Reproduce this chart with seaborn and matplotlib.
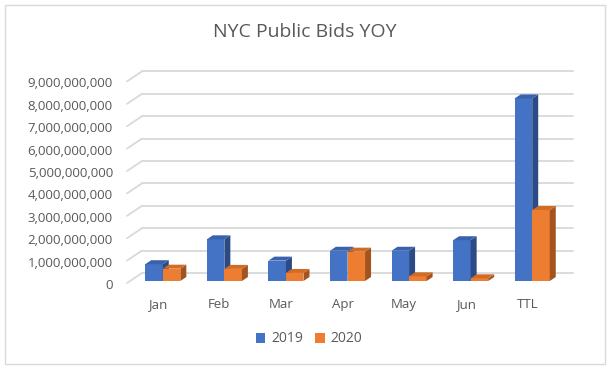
import numpy as np
import pandas as pd
import matplotlib
matplotlib.use("Agg")
import matplotlib.pyplot as plt
from matplotlib.patches import Polygon, Rectangle
from matplotlib.transforms import ScaledTranslation
import seaborn as sns

# data (in dollars)
months = ['Jan', 'Feb', 'Mar', 'Apr', 'May', 'Jun', 'TTL']
years = ['2019', '2020']
bids_2019 = [0.75e9, 1.86e9, 0.91e9, 1.35e9, 1.35e9, 1.82e9, 8.15e9]
bids_2020 = [0.55e9, 0.54e9, 0.36e9, 1.31e9, 0.21e9, 0.12e9, 3.17e9]
y_ticks = np.arange(0, 9e9 + 1, 1e9)

df = pd.DataFrame({
    'Month': months * 2,
    'Year': [years[0]] * len(months) + [years[1]] * len(months),
    'Bids': bids_2019 + bids_2020,
})

front = {'2019': '#4472C4', '2020': '#ED7D31'}
top = {'2019': '#3A62AC', '2020': '#D16C25'}
side = {'2019': '#2C4A85', '2020': '#A3531D'}
text_col = '#595959'
grid_col = '#D9D9D9'

sns.set_style('white')
plt.rcParams['font.family'] = ['Open Sans', 'DejaVu Sans']

W, H, DPI = 611, 370, 100
fig = plt.figure(figsize=(W / DPI, H / DPI), dpi=DPI)
ax = fig.add_axes([132 / W, 1 - 281 / H, 431 / W, 201.6 / H])
ax.patch.set_alpha(0)

sns.barplot(data=df, x='Month', y='Bids', hue='Year', palette=front,
            width=0.57, saturation=1, ax=ax, legend=False, zorder=3)

ax.set_xlim(-0.5, len(months) - 0.5)
ax.set_ylim(0, 9e9)
ax.set_yticks(y_ticks)
ax.set_yticklabels([f'{v:,.0f}' for v in y_ticks])
ax.set_xlabel('')
ax.set_ylabel('')
for s in ax.spines.values():
    s.set_visible(False)
ax.tick_params(axis='y', length=0, pad=13.7, labelsize=9.5, labelcolor=text_col)
ax.tick_params(axis='x', length=0, pad=12.5, labelsize=9.5, labelcolor=text_col)

px = 1 / DPI
for lbl in ax.get_yticklabels():
    lbl.set_transform(lbl.get_transform() + ScaledTranslation(0, -3 * px, fig.dpi_scale_trans))
for lbl in ax.get_xticklabels():
    lbl.set_transform(lbl.get_transform() + ScaledTranslation(-5 * px, 0, fig.dpi_scale_trans))

# back wall gridlines and the short diagonals on the left side wall
back = ax.transData + ScaledTranslation(10 * px, 8 * px, fig.dpi_scale_trans)
x0, x1 = ax.get_xlim()
for v in y_ticks:
    ax.plot([x0, x1], [v, v], color=grid_col, lw=1.3, transform=back,
            clip_on=False, zorder=1)
    p0 = ax.transData.transform((x0, v)) + np.array([-5, -2])
    p1 = ax.transData.transform((x0, v)) + np.array([10, 8])
    ax.plot([p0[0], p1[0]], [p0[1], p1[1]], color=grid_col, lw=1.3,
            transform=None, clip_on=False, zorder=1)

# 3D depth faces for each bar
depth_x, depth_y = 6, 4
for i, bar in enumerate(ax.patches):
    yr = years[i // len(months)]
    z = 3 + i // len(months)
    bar.set_zorder(z)
    bar.set_edgecolor('none')
    bx, bw, bh = bar.get_x(), bar.get_width(), bar.get_height()
    (l, b) = ax.transData.transform((bx, 0))
    (r, t) = ax.transData.transform((bx + bw, bh))
    top_face = [(l, t), (r, t), (r + depth_x, t + depth_y), (l + depth_x, t + depth_y)]
    side_face = [(r, b), (r + depth_x, b + depth_y), (r + depth_x, t + depth_y), (r, t)]
    ax.add_patch(Polygon(side_face, closed=True, fc=side[yr], ec='none',
                         transform=None, zorder=z + 0.1, clip_on=False))
    ax.add_patch(Polygon(top_face, closed=True, fc=top[yr], ec='none',
                         transform=None, zorder=z + 0.2, clip_on=False))

# legend
handles = [Rectangle((0, 0), 1, 1, fc=front[y], ec='none') for y in years]
fig.legend(handles, years, loc='center', bbox_to_anchor=(309 / W, 1 - 339 / H),
           ncol=2, frameon=False, fontsize=10, labelcolor=text_col,
           handlelength=0.7, handleheight=0.7, handletextpad=0.4, columnspacing=0.9)

fig.text(305 / W, 1 - 32 / H, 'NYC Public Bids YOY', ha='center', va='center',
         fontsize=14, color=text_col)

fig.add_artist(Rectangle((5 / W, 1 - 364 / H), 600 / W, 359.5 / H,
                         transform=fig.transFigure, fill=False, ec=grid_col, lw=1))

fig.savefig('out.png', dpi=DPI)
